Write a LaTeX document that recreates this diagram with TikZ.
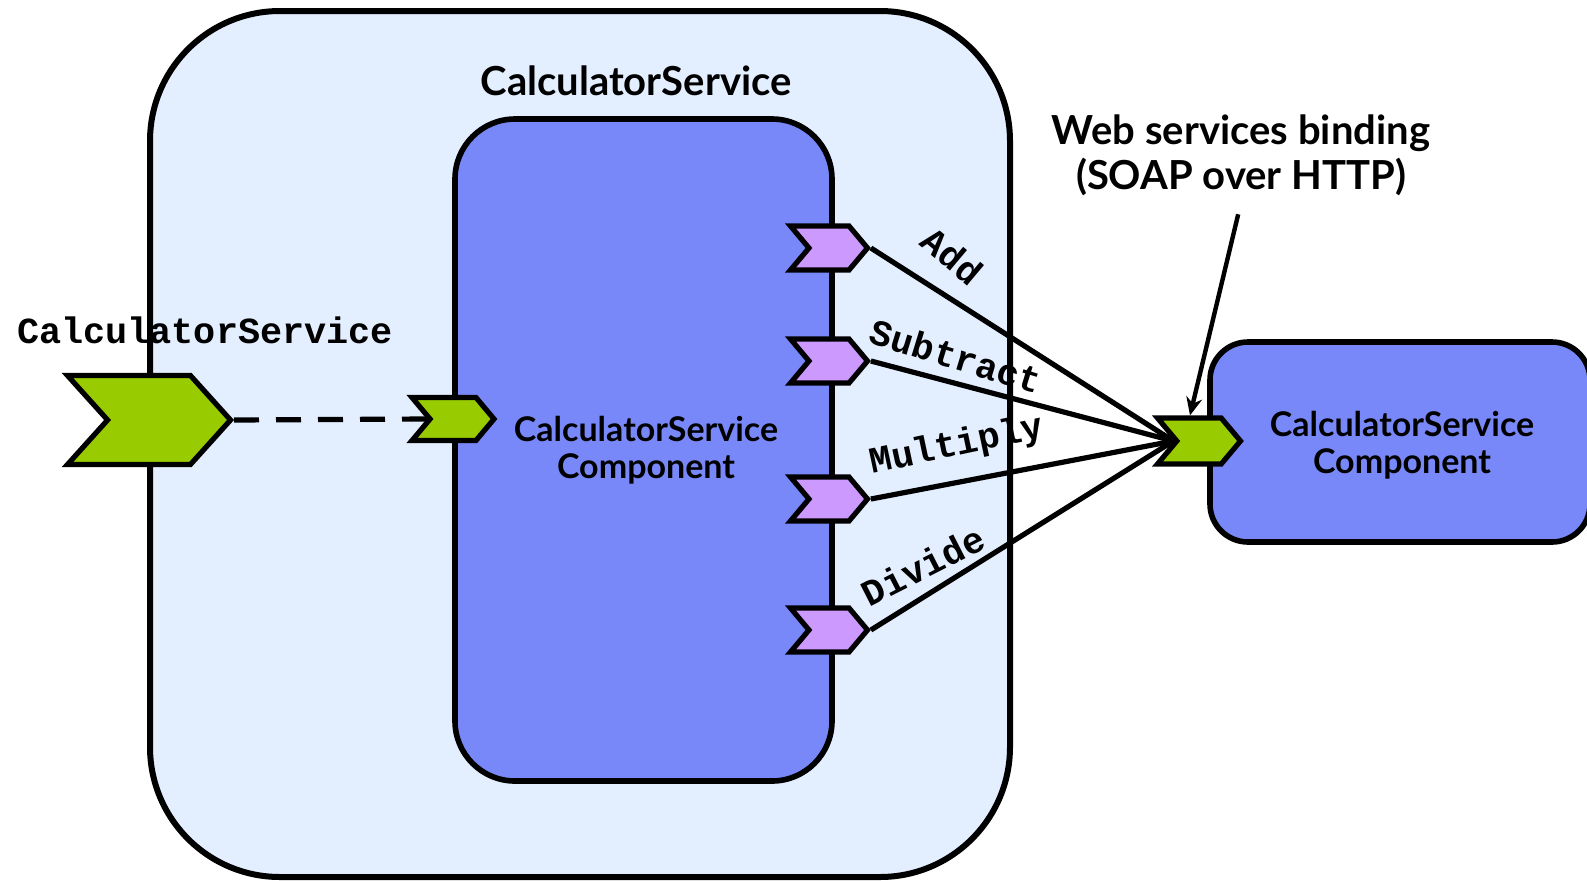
\documentclass[tikz,border=0pt]{standalone}
\usepackage{fontspec}
\setsansfont{Lato}
\setmonofont{Liberation Mono}
\usetikzlibrary{shapes.symbols,arrows.meta}
\definecolor{compblue}{HTML}{7888F8}
\definecolor{compositeblue}{HTML}{E3EEFF}
\definecolor{servicegreen}{HTML}{99CC00}
\definecolor{refpurple}{HTML}{CC99FF}

\begin{document}
\begin{tikzpicture}
  [x=0.5pt,y=-0.5pt,
   composite/.style={draw,line width=3pt,fill=compositeblue,rounded corners=65pt},
   component/.style={draw,line width=2.8pt,fill=compblue},
   chevron/.style={signal,signal to=east,signal from=west,draw,line width=2.6pt,inner sep=0pt,signal pointer angle=100},
   service/.style={chevron,fill=servicegreen},
   reference/.style={chevron,fill=refpurple,minimum width=38.5pt,minimum height=22pt},
   title/.style={font=\sffamily\bfseries\fontsize{20}{22.5}\selectfont,align=center},
   comptext/.style={font=\sffamily\bfseries\fontsize{17}{18.5}\selectfont,align=center},
   oplabel/.style={font=\ttfamily\bfseries\fontsize{18.4}{20}\selectfont},
   wire/.style={line width=2.6pt}]

  \useasboundingbox (0,0) rectangle (1587,880);

  \draw[composite] (150,11) rectangle (1010,877);
  \draw[component,rounded corners=30pt] (455,119) rectangle (832,781);
  \draw[component,rounded corners=19pt] (1210,342) rectangle (1590,542);

  \node[title] (comptitle) at (636,81) {CalculatorService};
  \node[comptext] (inner) at (646,450) {CalculatorService\\Component};
  \node[comptext] (outer) at (1402,445) {CalculatorService\\Component};
  \node[title] (wsb) at (1241,155) {Web services binding\\(SOAP over HTTP)};
  \node[oplabel] (svclabel) at (205,330) {CalculatorService};

  \node[service,minimum width=81.5pt,minimum height=44.5pt,signal pointer angle=96] (cs) at (149,420) {};
  \node[service,minimum width=41pt,minimum height=21.5pt] (sg) at (453,419) {};
  \node[service,minimum width=41.5pt,minimum height=23pt] (rg) at (1199,441) {};

  \node[reference] (add) at (829,248) {};
  \node[reference] (sub) at (829,361) {};
  \node[reference] (mul) at (829,499) {};
  \node[reference] (div) at (829,630) {};

  \draw[wire,dash pattern=on 12.5pt off 8.5pt] (cs.east) -- (sg.west);
  \foreach \from in {add,sub,mul,div}
    \draw[wire] (\from.east) -- (rg.west);
  \draw[line width=2.2pt,-{Stealth[length=9pt,width=8pt]},shorten <=6pt] (wsb.south) -- ([xshift=-4.5pt]rg.north);

  \node[oplabel,rotate=-40] (addlabel) at (952,256) {Add};
  \node[oplabel,rotate=-17] (sublabel) at (956,356) {Subtract};
  \node[oplabel,rotate=12] (mullabel) at (957,446) {Multiply};
  \node[oplabel,rotate=27] (divlabel) at (923,566) {Divide};
\end{tikzpicture}
\end{document}
